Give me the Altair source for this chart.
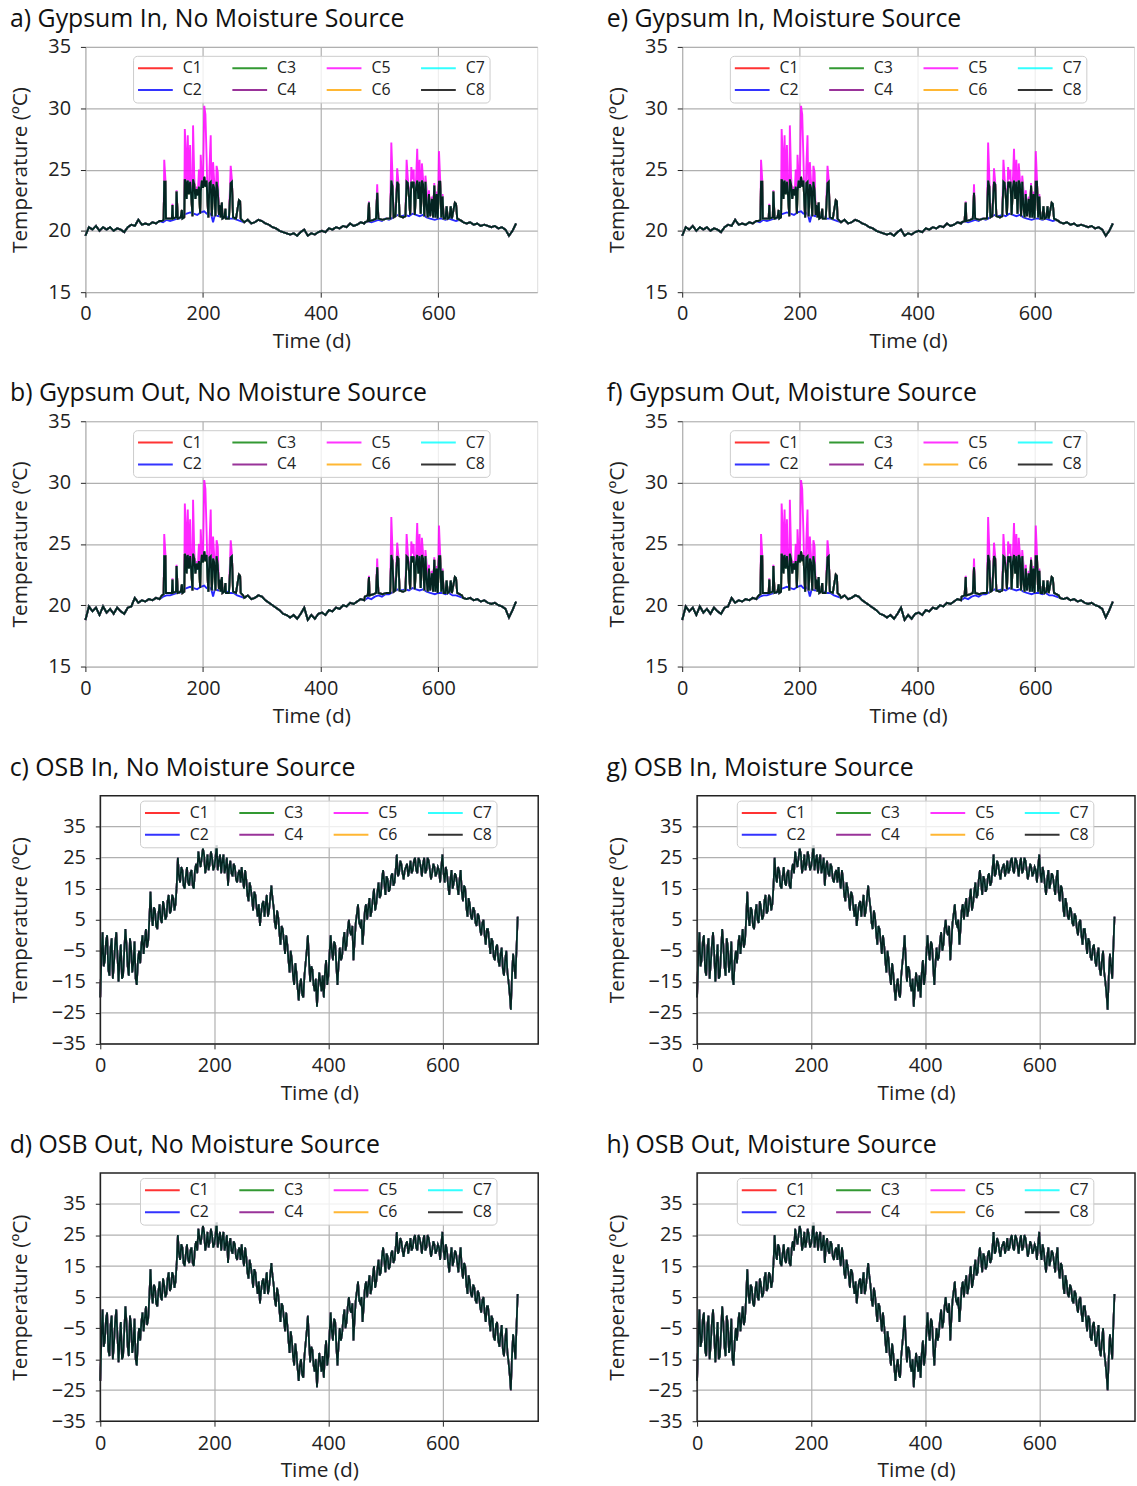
import altair as alt
import pandas as pd

# ---------------- data ----------------
series_names = ["C1", "C2", "C3", "C4", "C5", "C6", "C7", "C8"]
series_colors = ["#ff0000", "#0000ff", "#008000", "#800080",
                 "#ff00ff", "#ffa500", "#00ffff", "#000000"]

titles_left = ["a) Gypsum In, No Moisture Source", "b) Gypsum Out, No Moisture Source",
               "c) OSB In, No Moisture Source", "d) OSB Out, No Moisture Source"]
titles_right = ["e) Gypsum In, Moisture Source", "f) Gypsum Out, Moisture Source",
                "g) OSB In, Moisture Source", "h) OSB Out, Moisture Source"]

x_ticks = [0, 200, 400, 600]
gyp_y_ticks = [15, 20, 25, 30, 35]
osb_y_ticks = [-35, -25, -15, -5, 5, 15, 25, 35]

# gypsum baseline, one value every 6 days (day 0 ... 732)
gyp_in_base = [
    19.6, 20.3, 20.1, 20.4, 20.0, 20.3, 20.1, 20.3, 20.0, 20.2,
    20.1, 19.9, 20.3, 20.5, 20.4, 20.9, 20.5, 20.6, 20.5, 20.7,
    20.6, 20.8, 20.7, 20.9, 20.8, 20.9, 21.0, 20.9, 21.0, 21.1,
    21.0, 21.1, 21.0, 21.0, 21.1, 20.9, 21.0, 21.1, 20.9, 21.0,
    21.0, 20.9, 21.0, 20.9, 20.8, 20.7, 20.9, 20.6, 20.7, 20.9,
    20.8, 20.6, 20.5, 20.3, 20.2, 20.0, 19.9, 19.8, 19.7, 19.8,
    19.6, 19.9, 20.1, 19.6, 19.8, 19.7, 19.9, 20.0, 19.9, 20.2,
    20.1, 20.3, 20.2, 20.4, 20.3, 20.6, 20.4, 20.5, 20.7, 20.6,
    20.8, 20.7, 20.8, 20.9, 20.8, 21.0, 20.9, 21.0, 21.0, 21.1,
    21.0, 21.0, 21.1, 21.0, 21.0, 21.1, 20.9, 21.0, 21.0, 20.9,
    21.0, 21.0, 20.9, 21.0, 20.9, 20.8, 20.9, 20.7, 20.6, 20.7,
    20.5, 20.6, 20.4, 20.5, 20.4, 20.3, 20.4, 20.2, 20.3, 20.1,
    19.6, 20.0, 20.6]
gyp_out_base = [
    18.8, 19.9, 19.5, 19.8, 19.2, 19.9, 19.4, 19.7, 19.3, 19.8,
    19.5, 19.3, 19.8, 19.9, 20.6, 20.2, 20.4, 20.3, 20.5, 20.4,
    20.6, 20.5, 20.7, 20.8, 20.8, 20.9, 21.0, 20.9, 21.0, 21.1,
    21.0, 21.1, 21.0, 21.0, 21.1, 20.9, 21.0, 21.1, 20.9, 21.0,
    21.0, 20.9, 21.0, 20.8, 20.7, 20.6, 20.8, 20.5, 20.6, 20.8,
    20.7, 20.4, 20.2, 20.0, 19.8, 19.6, 19.3, 19.2, 19.0, 19.2,
    18.9, 19.3, 19.8, 18.8, 19.2, 18.9, 19.3, 19.4, 19.2, 19.6,
    19.5, 19.8, 19.7, 20.0, 19.9, 20.2, 20.1, 20.3, 20.5, 20.4,
    20.6, 20.5, 20.7, 20.8, 20.7, 20.9, 20.9, 21.0, 21.0, 21.1,
    21.0, 21.0, 21.1, 21.0, 21.0, 21.1, 20.9, 21.0, 21.0, 20.9,
    21.0, 21.0, 20.9, 21.0, 20.8, 20.8, 20.7, 20.6, 20.5, 20.6,
    20.4, 20.5, 20.3, 20.4, 20.2, 20.1, 20.2, 20.0, 19.9, 19.7,
    19.0, 19.6, 20.3]

# summer spike periods (C1, C3, C4, C6, C7, C8 and C5)
summer_ranges = [(130, 268), (475, 640)]
summer_days = [
    130, 133, 134, 136, 137, 142, 147, 148, 149, 154,
    155, 157, 162, 164, 165, 168, 169, 171, 172, 174,
    176, 178, 180, 182, 183, 185, 187, 189, 191, 193,
    195, 196, 198, 200, 202, 204, 206, 208, 209, 211,
    213, 215, 217, 219, 221, 223, 225, 227, 228, 230,
    232, 233, 236, 238, 239, 244, 247, 249, 251, 256,
    261, 263, 264, 268,
    475, 480, 482, 483, 490, 494, 496, 498, 505, 512,
    518, 520, 522, 524, 527, 530, 532, 534, 540, 544,
    546, 548, 550, 552, 554, 556, 558, 560, 562, 564,
    566, 568, 570, 572, 574, 576, 578, 580, 582, 584,
    586, 589, 591, 593, 595, 597, 599, 601, 603, 605,
    607, 609, 612, 614, 616, 619, 621, 623, 628, 630,
    632, 636, 640]
c8_summer = [
    20.8, 20.9, 24.0, 24.0, 21.0, 21.0, 21.0, 22.1, 21.0, 21.1,
    23.2, 21.0, 21.1, 21.7, 21.0, 21.1, 24.2, 23.9, 22.6, 24.1,
    23.0, 24.0, 22.8, 21.2, 24.2, 23.8, 22.6, 23.4, 22.9, 23.6,
    21.4, 23.2, 24.1, 23.5, 24.4, 23.6, 24.1, 22.0, 21.1, 23.9,
    24.0, 21.2, 23.8, 23.5, 21.2, 24.0, 23.3, 21.3, 22.1, 21.1,
    22.3, 21.0, 21.1, 21.8, 21.0, 21.0, 23.9, 24.0, 21.1, 21.0,
    22.5, 22.4, 21.0, 20.8,
    20.7, 20.8, 22.3, 20.8, 20.9, 21.0, 23.1, 21.0, 20.9, 21.0,
    21.0, 24.1, 23.6, 21.1, 21.2, 24.0, 23.8, 21.2, 21.1, 21.2,
    24.0, 23.9, 22.8, 21.3, 24.0, 23.7, 24.0, 21.3, 23.5, 24.1,
    22.6, 24.0, 21.4, 24.1, 23.8, 21.2, 24.0, 22.0, 21.1, 23.0,
    21.2, 22.6, 21.1, 23.7, 21.1, 23.0, 21.0, 24.0, 24.0, 21.1,
    22.8, 21.0, 21.0, 22.0, 21.0, 21.1, 22.0, 21.0, 22.3, 22.2,
    21.0, 20.9, 20.8]
c5_summer = [
    20.8, 20.9, 25.8, 24.2, 21.0, 21.0, 21.0, 22.2, 21.0, 21.1,
    23.3, 21.0, 21.1, 21.7, 21.0, 21.1, 28.3, 26.0, 22.6, 27.8,
    23.2, 27.0, 23.0, 21.2, 28.6, 24.5, 22.6, 23.6, 22.9, 25.0,
    21.4, 26.2, 24.3, 24.0, 30.2, 29.5, 26.0, 22.0, 21.1, 25.2,
    27.8, 21.2, 25.6, 24.0, 21.2, 25.3, 24.8, 21.3, 22.1, 21.1,
    22.3, 21.0, 21.1, 21.8, 21.0, 21.0, 25.3, 24.2, 21.1, 21.0,
    22.5, 22.4, 21.0, 20.8,
    20.7, 20.8, 22.4, 20.8, 20.9, 21.0, 23.8, 21.0, 20.9, 21.0,
    21.0, 27.2, 24.5, 21.1, 21.2, 25.1, 24.0, 21.2, 21.1, 21.2,
    25.8, 24.3, 23.0, 21.3, 25.2, 24.2, 25.0, 21.3, 24.0, 26.7,
    23.0, 25.8, 21.4, 25.5, 24.2, 21.2, 24.5, 23.4, 21.1, 23.3,
    21.2, 22.8, 21.1, 23.9, 21.1, 23.2, 21.0, 26.5, 24.2, 21.1,
    23.0, 21.0, 21.0, 22.0, 21.0, 21.1, 22.0, 21.0, 22.3, 22.2,
    21.0, 20.9, 20.8]

# C2 (blue) stays a little above the baseline in summer
c2_ranges = [(158, 246), (518, 588)]
c2_days = [160, 166, 172, 178, 184, 190, 196, 202, 206, 210, 214, 217, 220, 226, 232, 238, 244,
           520, 526, 532, 538, 544, 550, 556, 562, 568, 574, 580, 586]
c2_summer = [21.0, 21.3, 21.4, 21.5, 21.4, 21.3, 21.5, 21.6, 21.4, 21.5, 21.3, 20.7, 21.3, 21.2, 21.3, 21.2, 21.0,
             21.0, 21.2, 21.3, 21.2, 21.3, 21.2, 21.4, 21.3, 21.2, 21.3, 21.1, 21.0]

# OSB, values on days 0, 4, 8 ... 732
osb_in = [
    -20, 1, -8, 0, -13, -1, -9, 1, -15, -3,
    -13, 2, -10, -1, -12, -2, -16, -5, -3, -6,
    2, -2, 14, 3, 8, 2, 10, 4, 9, 6,
    13, 8, 12, 10, 25, 17, 21, 15, 22, 16,
    21, 15, 23, 27, 22, 28, 20, 26, 23, 25,
    22, 29, 24, 20, 26, 22, 16, 24, 19, 22,
    17, 21, 22, 15, 18, 11, 15, 8, 13, 6,
    3, 10, 6, 13, 8, 16, 9, 2, 6, -3,
    2, -6, -3, -12, -8, -16, -12, -21, -14, -20,
    -9, 0, -15, -11, -18, -23, -12, -18, -20, -8,
    -13, 0, -8, -3, -16, -4, -7, 1, -3, 5,
    0, -8, 4, 10, 3, -3, 8, 5, 12, 8,
    15, 10, 17, 13, 21, 13, 18, 15, 20, 17,
    26, 20, 23, 18, 22, 19, 24, 21, 25, 20,
    24, 19, 25, 21, 24, 18, 23, 19, 22, 17,
    26, 17, 20, 13, 21, 17, 19, 13, 21, 11,
    15, 6, 10, 5, 8, 3, 6, 0, 5, -3,
    2, -6, -2, -8, -3, -10, -4, -13, -5, -15,
    -24, -6, -14, 6]
# OSB In, values on days 2, 6, 10 ... 730
osb_in_mid = [
    -7, -10, -2, -11, -4, -14, -3, -6, -8, -14,
    -5, -3, -13, -4, -9, -14, -8, -9, 0, -2,
    -4, 5, 6, 9, 3, 7, 5, 11, 5, 11,
    7, 13, 8, 16, 19, 22, 16, 19, 17, 20,
    16, 21, 20, 24, 25, 26, 22, 21, 27, 21,
    25, 21, 26, 24, 20, 25, 22, 20, 23, 18,
    20, 17, 18, 21, 13, 17, 12, 14, 9, 10,
    7, 11, 10, 6, 12, 12, 4, 8, 1, 3,
    -2, 0, -8, -5, -13, -9, -17, -16, -19, -13,
    -5, -8, -10, -16, -14, -17, -15, -13, -12, -16,
    -6, -5, -2, -10, -9, -8, -2, -5, 2, 1,
    3, -2, 7, 4, 5, 2, 10, 9, 6, 12,
    8, 14, 12, 18, 17, 19, 14, 19, 16, 21,
    19, 24, 20, 21, 23, 21, 20, 24, 21, 25,
    22, 23, 20, 25, 21, 20, 22, 20, 21, 22,
    20, 22, 16, 18, 15, 20, 16, 18, 14, 16,
    9, 12, 6, 9, 4, 7, 2, 4, 0, 2,
    -2, -1, -7, -4, -8, -6, -11, -8, -12, -19,
    -13, -10, -4]
osb_out = [
    -22, 1, -9, 0, -14, -1, -10, 1, -16, -3,
    -14, 2, -11, -1, -13, -2, -17, -5, -3, -6,
    2, -2, 14, 3, 8, 2, 10, 4, 9, 6,
    13, 8, 12, 10, 25, 17, 21, 15, 22, 16,
    21, 15, 23, 27, 22, 28, 20, 26, 23, 25,
    22, 29, 24, 20, 26, 22, 16, 24, 19, 22,
    17, 21, 22, 15, 18, 11, 15, 8, 13, 6,
    3, 10, 6, 13, 8, 16, 9, 2, 6, -3,
    2, -6, -4, -13, -9, -17, -13, -22, -15, -21,
    -10, -1, -16, -12, -19, -24, -13, -19, -21, -9,
    -14, 0, -9, -3, -17, -5, -7, 1, -3, 5,
    0, -9, 4, 10, 3, -3, 8, 5, 12, 8,
    15, 10, 17, 13, 21, 13, 18, 15, 20, 17,
    26, 20, 23, 18, 22, 19, 24, 21, 25, 20,
    24, 19, 25, 21, 24, 18, 23, 19, 22, 17,
    26, 17, 20, 13, 21, 17, 19, 13, 21, 11,
    15, 6, 10, 5, 8, 3, 6, 0, 5, -3,
    2, -6, -2, -9, -3, -11, -4, -14, -5, -16,
    -25, -7, -15, 6]
osb_out_mid = [
    -8, -11, -2, -12, -4, -15, -3, -7, -9, -15,
    -6, -3, -14, -4, -10, -15, -9, -9, 0, -2,
    -4, 5, 6, 9, 3, 7, 5, 11, 5, 11,
    7, 13, 8, 16, 19, 22, 16, 19, 17, 20,
    16, 21, 20, 24, 25, 26, 22, 21, 27, 21,
    25, 21, 26, 24, 20, 25, 22, 20, 23, 18,
    20, 17, 18, 21, 13, 17, 12, 14, 9, 10,
    7, 11, 10, 6, 12, 12, 4, 8, 1, 3,
    -2, 0, -9, -6, -14, -10, -18, -17, -20, -14,
    -6, -9, -11, -17, -15, -18, -16, -14, -13, -17,
    -7, -6, -2, -11, -10, -9, -2, -5, 2, 1,
    3, -2, 7, 4, 5, 2, 10, 9, 6, 12,
    8, 14, 12, 18, 17, 19, 14, 19, 16, 21,
    19, 24, 20, 21, 23, 21, 20, 24, 21, 25,
    22, 23, 20, 25, 21, 20, 22, 20, 21, 22,
    20, 22, 16, 18, 15, 20, 16, 18, 14, 16,
    9, 12, 6, 9, 4, 7, 2, 4, 0, 2,
    -2, -1, -8, -4, -9, -7, -12, -9, -13, -20,
    -14, -11, -4]


# ---------------- building tables ----------------
def outside(d, ranges):
    return all(not (lo <= d <= hi) for lo, hi in ranges)


def gypsum_series(base):
    pts = list(zip(range(0, 6 * len(base), 6), base))
    off_summer = [p for p in pts if outside(p[0], summer_ranges)]
    c8 = sorted(off_summer + list(zip(summer_days, c8_summer)))
    c5 = sorted(off_summer + list(zip(summer_days, c5_summer)))
    c2 = sorted([p for p in pts if outside(p[0], c2_ranges)] + list(zip(c2_days, c2_summer)))
    out = {n: c8 for n in series_names}
    out["C2"] = c2
    out["C5"] = c5
    return out


def osb_series(vals, mids):
    pts = list(zip(range(0, 4 * len(vals), 4), vals)) + list(zip(range(2, 4 * len(mids) + 2, 4), mids))
    pts = sorted(pts)
    return {n: pts for n in series_names}


FONT = "Open Sans"
TXT = "#222222"
FRAME = "#222222"
GRID = "#b0b0b0"


def panel(series, title, kind):
    gyp = kind == "gyp"
    # OSB panels: the drawing area starts 15 px further right than the gypsum ones
    inset = 0 if gyp else 15
    width = 455 if gyp else 456
    height = 247 if gyp else 250
    ydom = [15, 35] if gyp else [-35, 45]
    yticks = gyp_y_ticks if gyp else osb_y_ticks
    lx, ly = (48, 9) if gyp else (55, 5)
    color_scale = alt.Scale(domain=series_names, range=series_colors)
    legend = alt.Legend(orient="none", legendX=lx, legendY=ly, columns=4, title=None,
                        symbolType="stroke", symbolSize=1225, symbolStrokeWidth=2,
                        symbolOpacity=0.8, labelFont=FONT, labelFontSize=16, labelColor=TXT,
                        labelOffset=9, columnPadding=29, rowPadding=5, clipHeight=17,
                        fillColor="rgba(255,255,255,0.8)", strokeColor="#cccccc",
                        cornerRadius=4, padding=4)
    xaxis = alt.Axis(values=x_ticks, title="Time (d)", grid=True, gridColor=GRID,
                     gridWidth=1.2, domain=False, tickSize=5, tickColor="#222",
                     labelFont=FONT, labelFontSize=20, labelColor=TXT, labelPadding=7,
                     labelFlush=False,
                     titleFont=FONT, titleFontSize=21, titleFontWeight="normal",
                     titleColor=TXT, titlePadding=7)
    yaxis = alt.Axis(values=yticks, title="Temperature (ºC)", grid=gyp, gridColor=GRID,
                     gridWidth=1.2, domain=False, tickSize=5, tickColor="#222",
                     labelFont=FONT, labelFontSize=20, labelColor=TXT, labelPadding=10,
                     labelFlush=False, offset=-inset,
                     titleFont=FONT, titleFontSize=21, titleFontWeight="normal",
                     titleColor=TXT, titlePadding=17 if gyp else 21)
    xscale = alt.Scale(domain=[0, 768], nice=False, zero=False, range=[inset, width])
    yscale = alt.Scale(domain=ydom, nice=False, zero=False)

    layers = []
    if not gyp:
        grid_df = pd.DataFrame({"temp": yticks})
        layers.append(
            alt.Chart(grid_df).mark_rule(color=GRID, strokeWidth=1.2).encode(
                y=alt.Y("temp:Q", scale=yscale, axis=yaxis),
                x=alt.value(inset), x2=alt.value(width),
            )
        )
    for name in series_names:
        df = pd.DataFrame(series[name], columns=["day", "temp"])
        df["series"] = name
        layers.append(
            alt.Chart(df).mark_line(strokeWidth=1.9 if gyp else 1.7, opacity=0.85).encode(
                x=alt.X("day:Q", scale=xscale, axis=xaxis),
                y=alt.Y("temp:Q", scale=yscale, axis=yaxis),
                color=alt.Color("series:N", scale=color_scale, legend=legend),
            )
        )
    props = dict(width=width, height=height,
                 title=alt.TitleParams(title, anchor="start", frame="bounds", font=FONT,
                                       fontSize=25, fontWeight="normal", color="#111111",
                                       offset=5 if gyp else 14))
    if not gyp:
        frame_df = pd.DataFrame({"k": [1]})
        layers.append(
            alt.Chart(frame_df).mark_rect(fillOpacity=0, stroke=FRAME, strokeWidth=1.5).encode(
                x=alt.value(inset), x2=alt.value(width), y=alt.value(0), y2=alt.value(height),
            )
        )
        props["view"] = alt.ViewBackground(stroke="transparent")
    return alt.layer(*layers).properties(**props)


panels_data = [
    (gypsum_series(gyp_in_base), "gyp"),
    (gypsum_series(gyp_out_base), "gyp"),
    (osb_series(osb_in, osb_in_mid), "osb"),
    (osb_series(osb_out, osb_out_mid), "osb"),
]

panels = []
for i, (data, kind) in enumerate(panels_data):
    panels.append(panel(data, titles_left[i], kind))
    panels.append(panel(data, titles_right[i], kind))

chart = (
    alt.concat(*panels, columns=2, align="none", spacing={"row": 28, "column": 66})
    .resolve_scale(color="independent")
    .resolve_legend(color="independent")
    .properties(padding={"left": 9, "top": 1, "right": 0, "bottom": 0})
    .configure_view(stroke=FRAME, strokeWidth=1.5)
    .configure(background="white")
)

chart.save("out.html", embed_options={"renderer": "svg", "actions": False})
